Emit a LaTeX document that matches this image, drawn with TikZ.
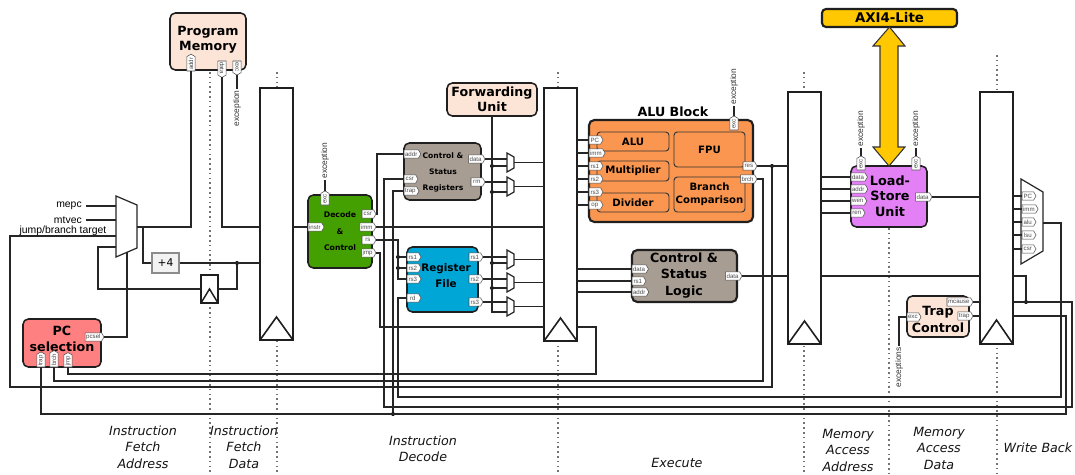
\documentclass[tikz,border=0pt]{standalone}
\usepackage{fontspec}
\setmainfont{DejaVu Sans}
\newfontfamily\arialf{Liberation Sans}
\usetikzlibrary{shapes.symbols}
\definecolor{peach}{RGB}{252,228,214}
\definecolor{pcred}{RGB}{255,128,128}
\definecolor{decgreen}{RGB}{68,160,0}
\definecolor{taupe}{RGB}{168,157,147}
\definecolor{rfblue}{RGB}{0,166,214}
\definecolor{aluor}{RGB}{250,150,80}
\definecolor{lsuvio}{RGB}{228,128,245}
\definecolor{axigold}{RGB}{255,200,0}
\newcommand\blk[7][]{\node[#1,minimum width={(#5-#3)*0.75pt},minimum height={(#6-#4)*0.75pt}] (#2) at ({(#3+#5)/2},{(#4+#6)/2}) {#7};}
\newcommand\smux[2]{\draw[muxst] (507,#2) -- (514,#2+4) -- (514,#2+15) -- (507,#2+19) -- cycle;
  \coordinate (#1-out) at (514,#2+9.5);}
\tikzset{
 conn/.style={draw=black!85, line width=0.9pt},
 stagedot/.style={draw=black!55, line width=0.9pt, dash pattern=on 1.2pt off 2.4pt},
 blkst/.style={draw=black!88, line width=1.15pt, rounded corners=4pt, inner sep=0pt, outer sep=0pt},
 inb/.style={draw=black!80, line width=0.7pt, rounded corners=2.5pt, inner sep=0pt, outer sep=0pt, font=\bfseries\fontsize{7.6}{9.75}\selectfont, align=center},
 preg/.style={draw=black!88, line width=1.2pt, fill=white, inner sep=0pt, outer sep=0pt},
 btxt/.style={font=\bfseries\fontsize{9.5}{11.5}\selectfont, align=center, inner sep=0pt},
 port/.style={signal, signal to=east, signal pointer angle=120, draw=black!70, line width=0.4pt, fill=white, text=black!70, font=\arialf\fontsize{4.6}{5}\selectfont, inner xsep=0.8pt, inner ysep=0.4pt, minimum height=6.2pt, minimum width=10.5pt, outer sep=0pt},
 muxst/.style={draw=black!85, line width=0.9pt, fill=white},
 exl/.style={font=\arialf\fontsize{6.3}{7}\selectfont, inner sep=0.8pt, text=black!80},
 lab/.style={font=\arialf\fontsize{7.8}{9}\selectfont, inner sep=0pt},
 stg/.style={font=\itshape\fontsize{9.5}{12.4}\selectfont, align=center, inner sep=0pt, text=black!92},
 jdot/.style={circle, fill=black, inner sep=0pt, minimum size=3pt},
}
\begin{document}
\begin{tikzpicture}[x=0.75pt,y=-0.75pt]
\path[use as bounding box, fill=white] (0,0) rectangle (1075,475);

% stage separators
\foreach \xx/\ya in {210/72,277/72,558/72,804/72,889/228,997/55}
  \draw[stagedot] (\xx,\ya) -- (\xx,475);

% stage labels
\node[stg] (s-ifa) at (143,447) {Instruction\\Fetch\\Address};
\node[stg] (s-ifd) at (244,447) {Instruction\\Fetch\\Data};
\node[stg] (s-id) at (423,449) {Instruction\\Decode};
\node[stg] (s-ex) at (677,463) {Execute};
\node[stg] (s-maa) at (848,450) {Memory\\Access\\Address};
\node[stg] (s-mad) at (939,448) {Memory\\Access\\Data};
\node[stg] (s-wb) at (1038,448) {Write Back};

% coordinates
\coordinate (mux-in1) at (116,206);
\coordinate (mux-in2) at (116,220);
\coordinate (mux-in3) at (116,236);
\coordinate (mux-in4) at (116,247);
\coordinate (mux-out) at (137,227);
\coordinate (mux-sel) at (127,252.3);
\coordinate (j143) at (143,227);

% ---------------- blocks ----------------
\blk[blkst, fill=peach]{pm}{170}{13}{246}{70}{}
\node[btxt] (pm-t) at (208,40) {Program\\Memory};
\blk[blkst, fill=peach]{fwd}{447}{83}{537}{116}{}
\node[btxt] (fwd-t) at (492,99.5) {Forwarding\\Unit};
\blk[blkst, fill=pcred]{pcs}{23}{319}{101}{367}{}
\node[btxt, font=\bfseries\fontsize{9.5}{12}\selectfont] (pcs-t) at (62,339) {PC\\selection};
\blk[blkst, fill=decgreen]{dec}{308}{195}{372}{268}{}
\node[btxt, font=\bfseries\fontsize{5.8}{12.4}\selectfont] (dec-t) at (340,231.5) {Decode\\\&\\Control};
\blk[blkst, fill=taupe]{csr}{404}{143}{481}{200}{}
\node[btxt, font=\bfseries\fontsize{5.7}{12}\selectfont] (csr-t) at (443,172) {Control \&\\Status\\Registers};
\blk[blkst, fill=rfblue]{rf}{407}{247}{478}{312}{}
\node[btxt, font=\bfseries\fontsize{7.8}{12}\selectfont] (rf-t) at (446,276) {Register\\File};
\blk[blkst, line width=1.6pt, fill=aluor]{alu}{589}{120}{753}{222}{}
\node[btxt] (alu-t) at (673,112) {ALU Block};
\blk[inb, fill=aluor]{alu-a}{597}{132}{669}{151}{ALU}
\blk[inb, fill=aluor]{alu-m}{597}{161}{669}{181}{Multiplier}
\blk[inb, fill=aluor]{alu-d}{597}{193}{669}{212}{Divider}
\blk[inb, fill=aluor]{alu-f}{674}{132}{745}{167}{FPU}
\blk[inb, fill=aluor]{alu-b}{674}{177}{745}{212}{Branch\\Comparison}
\blk[blkst, line width=1.6pt, fill=taupe]{csl}{632}{250}{737}{302}{}
\node[btxt, font=\bfseries\fontsize{9.5}{12.4}\selectfont] (csl-t) at (684,275.5) {Control \&\\Status\\Logic};
\blk[blkst, fill=lsuvio]{lsu}{851}{166}{927}{227}{}
\node[btxt, font=\bfseries\fontsize{9.6}{11.6}\selectfont] (lsu-t) at (890,196) {Load-\\Store\\Unit};
\blk[blkst, line width=1.6pt, rounded corners=3pt, fill=axigold]{axi}{822}{9}{957}{27}{}
\node[btxt, font=\bfseries\fontsize{10}{12}\selectfont] (axi-t) at (889.5,18) {AXI4-Lite};
\blk[blkst, fill=peach]{trap}{907}{296}{969}{337}{}
\node[btxt, font=\bfseries\fontsize{9.5}{12.5}\selectfont] (trap-t) at (938,319.5) {Trap\\Control};
\blk[draw=black!45, fill=black!5, line width=0.8pt, inner sep=0pt, font=\fontsize{8}{9}\selectfont]{plus4}{152}{253}{179}{273}{+4}
\blk[preg]{flop}{201}{275}{218}{303}{}
\draw[line width=1.1pt, draw=black!88] (flop.south west) -- ++(8.5,-14) -- (flop.south east);

% pipeline registers
\blk[preg]{ifid}{260}{88}{293}{340}{}
\draw[line width=1.2pt, draw=black!88] (ifid.south west) -- ++(16.5,-23) -- (ifid.south east);
\blk[preg]{idex}{544}{88}{577}{341}{}
\draw[line width=1.2pt, draw=black!88] (idex.south west) -- ++(16.5,-23) -- (idex.south east);
\blk[preg]{exmem}{788}{92}{821}{344}{}
\draw[line width=1.2pt, draw=black!88] (exmem.south west) -- ++(16.5,-23) -- (exmem.south east);
\blk[preg]{memwb}{980}{92}{1013}{344}{}
\draw[line width=1.2pt, draw=black!88] (memwb.south west) -- ++(16.5,-24) -- (memwb.south east);

% muxes
\draw[muxst] (116,196) -- (137,205) -- (137,248) -- (116,257) -- cycle;
\smux{mA}{153}
\smux{mB}{177}
\smux{m1}{250}
\smux{m2}{273}
\smux{m3}{297}
\draw[muxst] (1021,179) -- (1043,192) -- (1043,251) -- (1021,264) -- cycle;
\coordinate (wbm-out) at (1043,223);

% AXI arrow
\draw[fill=axigold, draw=black!80, line width=0.8pt] (axi.south) -- (905,46) -- (898,46) -- (898,147) -- (905,147) -- (lsu.north) -- (873,147) -- (880,147) -- (880,46) -- (873,46) -- cycle;

% ---------------- ports ----------------
\node[port, anchor=west, rotate=90] (pm-addr) at (191,71) {addr};
\node[port, anchor=west, rotate=-90] (pm-data) at (222,61) {data};
\node[port, anchor=west, rotate=-90] (pm-exc) at (237,61) {exc};

\node[port, anchor=east] (pcs-sel) at (104,337) {pcsel};
\node[port, anchor=west, rotate=90] (pcs-trap) at (41,367) {trap};
\node[port, anchor=west, rotate=90] (pcs-brch) at (54,367) {brch};
\node[port, anchor=west, rotate=90] (pcs-jmp) at (68,367) {jmp};

\node[port, anchor=west, rotate=90] (dec-exc) at (325,205) {exc};
\node[port, anchor=west] (dec-instr) at (308,227) {instr};
\node[port, anchor=east] (dec-csr) at (376,214) {csr};
\node[port, anchor=east] (dec-imm) at (376,227) {imm};
\node[port, anchor=east] (dec-rs) at (376,240) {rs};
\node[port, anchor=east] (dec-jmp) at (376,253) {jmp};

\node[port, anchor=west] (csr-addr) at (404,154) {addr};
\node[port, anchor=west] (csr-csr) at (404,179) {csr};
\node[port, anchor=west] (csr-trap) at (404,191) {trap};
\node[port, anchor=east] (csr-data) at (485,159) {data};
\node[port, anchor=east] (csr-rm) at (485,182) {rm};

\node[port, anchor=west] (rf-rs1) at (407,257) {rs1};
\node[port, anchor=west] (rf-rs2) at (407,268) {rs2};
\node[port, anchor=west] (rf-rs3) at (407,279) {rs3};
\node[port, anchor=west] (rf-rd) at (407,298) {rd};
\node[port, anchor=east] (rf-o1) at (483,257) {rs1};
\node[port, anchor=east] (rf-o2) at (483,279) {rs2};
\node[port, anchor=east] (rf-o3) at (483,302) {rs3};

\node[port, anchor=west] (alu-pc) at (589,140) {PC};
\node[port, anchor=west] (alu-imm) at (589,153) {imm};
\node[port, anchor=west] (alu-rs1) at (589,166) {rs1};
\node[port, anchor=west] (alu-rs2) at (589,179) {rs2};
\node[port, anchor=west] (alu-rs3) at (589,192) {rs3};
\node[port, anchor=west] (alu-op) at (589,205) {op};
\node[port, anchor=east] (alu-res) at (757,166) {res};
\node[port, anchor=east] (alu-brch) at (757,179) {brch};
\node[port, anchor=west, rotate=90] (alu-exc) at (734,130) {exc};

\node[port, anchor=west] (csl-data) at (632,269) {data};
\node[port, anchor=west] (csl-rs1) at (632,281) {rs1};
\node[port, anchor=west] (csl-addr) at (632,292) {addr};
\node[port, anchor=east] (csl-out) at (742,276) {data};

\node[port, anchor=west] (lsu-data) at (851,177) {data};
\node[port, anchor=west] (lsu-addr) at (851,189) {addr};
\node[port, anchor=west] (lsu-wen) at (851,201) {wen};
\node[port, anchor=west] (lsu-ren) at (851,213) {ren};
\node[port, anchor=east] (lsu-out) at (932,197) {data};
\node[port, anchor=west, rotate=90] (lsu-exc1) at (861,170) {exc};
\node[port, anchor=west, rotate=90] (lsu-exc2) at (916,170) {exc};

\node[port, anchor=west] (trap-exc) at (907,317) {exc};
\node[port, anchor=east] (trap-mcause) at (973,302) {mcause};
\node[port, anchor=east] (trap-trap) at (973,316) {trap};

\node[port, anchor=west] (wb-pc) at (1022,196) {PC};
\node[port, anchor=west] (wb-imm) at (1022,209) {imm};
\node[port, anchor=west] (wb-alu) at (1022,222) {alu};
\node[port, anchor=west] (wb-lsu) at (1022,235) {lsu};
\node[port, anchor=west] (wb-csr) at (1022,249) {csr};

% exception labels
\node[exl, rotate=90, anchor=east] (pm-exl) at (237,89) {exception};
\node[exl, rotate=90, anchor=west] (dec-exl) at (325,180) {exception};
\node[exl, rotate=90, anchor=west] (alu-exl) at (734,106) {exception};
\node[exl, rotate=90, anchor=west] (lsu-exl1) at (861,148) {exception};
\node[exl, rotate=90, anchor=west] (lsu-exl2) at (916,148) {exception};
\node[exl, rotate=90, anchor=east] (trap-exl) at (899,346) {exceptions};

% input labels
\node[lab, anchor=east, inner xsep=3pt] (l-mepc) at (86,206) {mepc};
\node[lab, anchor=east, inner xsep=3pt] (l-mtvec) at (86,220) {mtvec};
\node[lab, anchor=base] (l-jbt) at (63,233) {jump/branch target};

% junction dots
\node[jdot] (j237) at (237,263) {};
\node[jdot] (jres) at (772,166) {};
\node[jdot] (jrs1) at (398,257) {};
\node[jdot] (jrs2) at (398,268) {};
\node[jdot] (jfA) at (492,166) {};
\node[jdot] (jfB) at (492,192) {};
\node[jdot] (jf1) at (492,263) {};
\node[jdot] (jf2) at (492,288) {};
\node[jdot] (jtrap) at (393,414) {};
\node[jdot] (jmc) at (1026,302) {};

% ---------------- connectors ----------------
\draw[conn] (l-mepc.east) -- (mux-in1);
\draw[conn] (l-mtvec.east) -- (mux-in2);
\draw[conn] (mux-out) -| (pm-addr.west);
\draw[conn] (j143) |- (plus4.west);
\draw[conn] (plus4.east) -- (ifid.west |- plus4.east);
\draw[conn] (j237) |- (flop.east);
\draw[conn] (flop.west) -| (98,247) -- (mux-in4);
\draw[conn] (pm-data.east) |- (ifid.west |- dec-instr.west);
\draw[conn] (pm-exc.east) -- (pm-exl.east);
\draw[conn] (pcs-sel.east) -| (mux-sel);

\draw[conn] (ifid.east |- dec-instr.west) -- (dec-instr.west);
\draw[conn] (dec-exc.east) -- (dec-exl.west);
\draw[conn] (dec-csr.east) -| (377,154) -- (csr-addr.west);
\draw[conn] (dec-imm.east) -- (idex.west |- dec-imm.east);
\draw[conn] (dec-rs.east) -| (398,279) -- (rf-rs3.west);
\draw[conn] (jrs1) -- (rf-rs1.west);
\draw[conn] (jrs2) -- (rf-rs2.west);
\draw[conn] (dec-jmp.east) -| (380,327) -- (544,327);
\draw[conn] (577,327) -- (596,327) -- (596,374) -| (pcs-jmp.west);

\draw[conn] (csr-data.east) -- (507,159);
\draw[conn] (csr-rm.east) -- (507,182);
\draw[conn] (rf-o1.east) -- (507,257);
\draw[conn] (rf-o2.east) -- (507,279);
\draw[conn] (rf-o3.east) -- (507,302);
\draw[conn] (fwd.south) -- (492,312) -- (507,312);
\draw[conn] (jfA) -- (507,166);
\draw[conn] (jfB) -- (507,192);
\draw[conn] (jf1) -- (507,263);
\draw[conn] (jf2) -- (507,288);
\foreach \m in {mA,mB,m1,m2,m3}
  \draw[conn] (\m-out) -- (idex.west |- \m-out);

\foreach \p in {pc,imm,rs1,rs2,rs3,op}
  \draw[conn] (idex.east |- alu-\p.west) -- (alu-\p.west);
\foreach \p in {data,rs1,addr}
  \draw[conn] (idex.east |- csl-\p.west) -- (csl-\p.west);
\draw[conn] (alu-exc.east) -- (alu-exl.west);
\draw[conn] (alu-res.east) -- (exmem.west |- alu-res.east);
\draw[conn] (jres) -- (772,387) -| (10,236) -- (mux-in3);
\draw[conn] (alu-brch.east) -| (763,381) -| (pcs-brch.west);
\draw[conn] (csl-out.east) -- (exmem.west |- csl-out.east);
\draw[conn] (exmem.east |- csl-out.east) -- (memwb.west |- csl-out.east);

\foreach \p in {data,addr,wen,ren}
  \draw[conn] (exmem.east |- lsu-\p.west) -- (lsu-\p.west);
\draw[conn] (lsu-out.east) -- (memwb.west |- lsu-out.east);
\draw[conn] (lsu-exc1.east) -- (lsu-exl1.west);
\draw[conn] (lsu-exc2.east) -- (lsu-exl2.west);
\draw[conn] (trap-mcause.east) -- (memwb.west |- trap-mcause.east);
\draw[conn] (trap-trap.east) -- (memwb.west |- trap-trap.east);
\draw[conn] (trap-exc.west) -| (trap-exl.east);

\foreach \p in {pc,imm,alu,lsu,csr}
  \draw[conn] (memwb.east |- wb-\p.west) -- (wb-\p.west);
\draw[conn] (wbm-out) -| (1061,397) -| (398,298) -- (rf-rd.west);
\draw[conn] (memwb.east |- csl-out.east) -| (jmc);
\draw[conn] (memwb.east |- trap-mcause.east) -| (1072,407) -| (384,179) -- (csr-csr.west);
\draw[conn] (memwb.east |- trap-trap.east) -| (1066,414) -| (pcs-trap.west);
\draw[conn] (jtrap) |- (csr-trap.west);

\end{tikzpicture}
\end{document}
